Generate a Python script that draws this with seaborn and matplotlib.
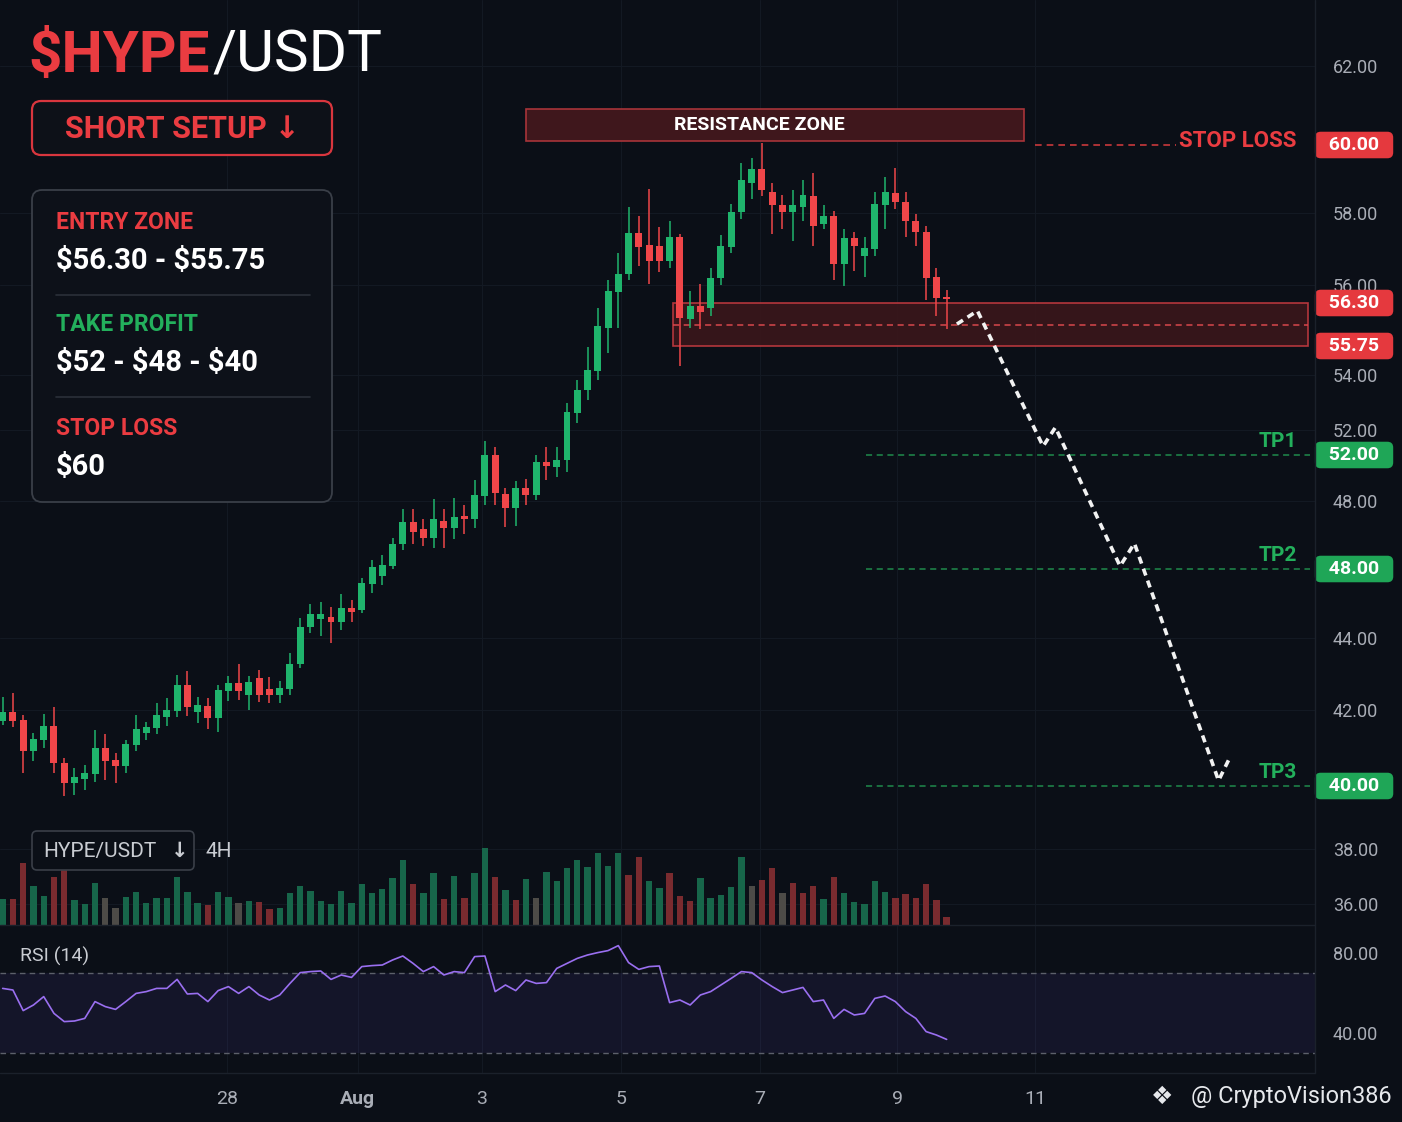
import numpy as np
import matplotlib
matplotlib.use("Agg")
import matplotlib.pyplot as plt
import seaborn as sns
from matplotlib.patches import FancyBboxPatch, Rectangle

# HYPE/USDT 4H candles
opens = [42.40, 42.73, 42.43, 41.29, 41.70, 42.21, 40.85, 40.11, 40.26, 40.44,
         41.40, 40.96, 40.74, 41.51, 41.96, 42.14, 42.54, 42.77, 43.72, 42.73,
         42.95, 42.51, 43.50, 43.80, 43.36, 43.98, 43.58, 43.36, 43.58, 44.50,
         45.86, 46.16, 46.23, 46.05, 46.56, 46.49, 47.45, 47.74, 48.10, 48.89,
         49.65, 49.41, 49.10, 49.68, 49.44, 49.85, 49.75, 50.57, 52.01, 50.64,
         50.13, 50.85, 50.61, 51.77, 51.57, 51.81, 53.45, 54.24, 54.89, 55.98,
         56.55, 56.99, 57.94, 57.66, 57.64, 57.29, 57.85, 56.10, 56.26, 56.23,
         56.88, 57.62, 58.43, 59.12, 59.44, 58.91, 58.59, 58.43, 58.54, 58.80,
         58.15, 58.33, 57.22, 57.83, 57.41, 57.57, 58.59, 58.87, 58.66, 58.22,
         57.96, 56.90, 56.44]
highs = [43.28, 43.43, 42.62, 41.96, 42.66, 42.91, 41.03, 40.67, 40.78, 42.07,
         41.92, 41.22, 41.70, 42.62, 42.36, 43.06, 43.25, 44.09, 44.24, 43.28,
         43.25, 43.72, 44.06, 44.50, 44.06, 44.28, 44.02, 43.87, 44.90, 46.19,
         46.71, 46.78, 46.60, 47.08, 46.86, 47.67, 48.31, 48.48, 49.10, 50.09,
         50.09, 49.75, 50.47, 50.09, 50.50, 50.23, 51.12, 52.49, 52.29, 50.85,
         51.09, 51.15, 52.01, 52.29, 52.29, 53.80, 54.58, 55.72, 56.23, 56.83,
         57.46, 58.54, 58.33, 58.98, 58.08, 58.22, 57.92, 56.58, 56.74, 57.11,
         57.90, 58.61, 59.58, 59.70, 60.05, 59.12, 58.84, 58.94, 59.19, 59.35,
         58.59, 58.45, 58.03, 57.96, 57.85, 58.89, 59.24, 59.47, 58.91, 58.38,
         58.10, 57.13, 56.60]
lows = [42.25, 42.18, 40.48, 40.92, 41.40, 40.48, 39.66, 39.69, 39.86, 40.15,
        40.22, 40.11, 40.48, 41.29, 41.70, 41.92, 42.21, 42.54, 42.58, 42.32,
        42.10, 41.99, 43.13, 43.17, 42.80, 43.10, 43.06, 43.06, 43.36, 44.35,
        45.64, 45.53, 45.27, 45.75, 46.05, 46.38, 47.12, 47.41, 48.00, 48.65,
        48.89, 48.79, 48.75, 48.75, 49.06, 49.23, 49.44, 50.26, 50.26, 49.47,
        49.51, 50.26, 50.43, 51.12, 51.22, 51.40, 53.11, 53.90, 54.58, 55.51,
        55.98, 56.83, 57.16, 56.74, 57.02, 57.11, 55.06, 55.98, 55.97, 56.13,
        56.72, 57.48, 58.27, 58.73, 58.80, 57.92, 58.03, 57.76, 58.22, 57.64,
        58.03, 56.83, 56.69, 57.06, 56.92, 57.39, 58.03, 58.50, 57.85, 57.64,
        56.37, 56.13, 55.97]
closes = [42.73, 42.40, 41.29, 41.73, 42.21, 40.85, 40.11, 40.33, 40.48, 41.40,
          40.92, 40.74, 41.55, 42.10, 42.18, 42.62, 42.80, 43.72, 42.91, 42.99,
          42.51, 43.54, 43.80, 43.50, 43.83, 43.36, 43.36, 43.61, 44.50, 45.86,
          46.34, 46.34, 46.05, 46.56, 46.42, 47.48, 48.07, 48.14, 48.89, 49.65,
          49.30, 49.10, 49.75, 49.44, 49.82, 49.75, 50.61, 52.01, 50.67, 50.13,
          50.85, 50.61, 51.77, 51.60, 51.84, 53.49, 54.24, 54.93, 56.00, 56.58,
          56.99, 57.94, 57.62, 57.29, 57.29, 57.85, 56.11, 56.26, 56.18, 56.88,
          57.64, 58.43, 59.19, 59.44, 58.94, 58.59, 58.43, 58.59, 58.82, 58.10,
          58.33, 57.22, 57.83, 57.64, 57.59, 58.61, 58.89, 58.66, 58.22, 57.96,
          56.88, 56.42, 56.39]
volume = [26, 26, 61, 39, 29, 47, 56, 25, 21, 42,
          27, 17, 28, 33, 22, 27, 27, 47, 33, 22,
          20, 33, 28, 22, 24, 23, 16, 17, 32, 39,
          34, 24, 21, 34, 22, 41, 32, 36, 46, 64,
          41, 32, 51, 26, 48, 27, 51, 76, 47, 35,
          25, 45, 27, 52, 43, 56, 64, 57, 71, 58,
          71, 49, 67, 43, 37, 51, 29, 24, 46, 27,
          30, 38, 67, 39, 44, 56, 32, 42, 32, 39,
          26, 47, 32, 23, 21, 43, 33, 27, 31, 27,
          41, 25, 8]
volume_side = list("grrggrrggg" "nngggggggg" "rggngrrggg" "gggggggggg" "rggrgrggrg"
                   "rgnggggggg" "grrggrrrgg" "gggnrrnrrr" "grgggggrrr" "rrr")
rsi = [62.3, 61.5, 51.2, 54.0, 58.2, 49.8, 45.7, 46.0, 47.3, 55.7,
       53.2, 51.8, 55.7, 59.8, 60.7, 62.3, 62.3, 66.8, 59.5, 59.8,
       55.7, 61.2, 63.2, 59.8, 63.2, 59.0, 56.5, 59.0, 64.8, 70.2,
       70.7, 71.0, 66.8, 69.0, 67.8, 73.2, 73.7, 74.0, 76.5, 78.5,
       74.8, 70.7, 73.2, 69.0, 70.7, 70.2, 78.2, 78.5, 60.7, 64.0,
       61.2, 66.5, 64.8, 65.2, 72.3, 74.8, 77.3, 79.0, 80.2, 81.2,
       83.7, 75.2, 71.8, 73.2, 73.5, 55.2, 56.5, 54.0, 59.0, 60.7,
       64.0, 67.3, 70.7, 70.2, 66.5, 63.2, 60.2, 61.5, 62.8, 55.7,
       56.5, 47.3, 51.8, 49.0, 49.8, 57.3, 58.5, 55.7, 50.7, 47.3,
       40.7, 39.0, 36.8]

# trade setup
entry_zone = (55.75, 56.30)
stop_loss = 60.00
take_profits = [52.00, 48.00, 40.00]
tp_names = ["TP1", "TP2", "TP3"]
resistance_zone = (60.10, 60.90)
resistance_bars = (51.0, 99.5)
entry_bars = (65.3, 127.2)
proj_bar = [93.0, 95.0, 101.4, 102.6, 108.9, 110.3, 118.5, 119.6]
proj_price = [56.03, 56.20, 52.30, 52.95, 48.10, 48.90, 40.20, 41.05]

price_ticks = [62, 58, 56, 54, 52, 48, 44, 42, 38, 36]
rsi_ticks = [80, 40]
date_labels = ["28", "Aug", "3", "5", "7", "9", "11"]
date_tick_pos = [21.9, 34.6, 46.7, 60.3, 73.8, 87.2, 100.6]

# the picture's price axis is not linear: piecewise scales (price -> depth from top)
level_scale = ([34, 36, 40, 48, 52, 55.75, 56.30, 60, 62, 64],
               [963, 904, 786, 569, 455, 346, 303, 145, 66, -13])
label_scale = ([34, 36, 38, 42, 44, 48, 52, 54, 56, 58, 62, 64],
               [959, 904, 849, 710, 638, 501, 430, 375, 285, 213, 66, -13])

BG = "#0b0f17"
RED = "#ef4649"
GREEN = "#1fb46c"
TXT_RED = "#ea3c41"
TXT_GREEN = "#23b05c"
TICK = "#a9adb6"
LINE = "#1b212b"
VOL_COL = {"g": "#17664a", "r": "#7a2b2f", "n": "#4d4b47"}

W, H = 1402, 1122
sns.set_theme(style="dark", rc={"axes.facecolor": BG, "figure.facecolor": BG,
                                "savefig.facecolor": BG, "axes.edgecolor": BG,
                                "text.color": "white"})
plt.rcParams["font.family"] = ["Roboto", "DejaVu Sans"]


def frame(left, top, right, bottom):
    return [left / W, 1 - bottom / H, (right - left) / W, (bottom - top) / H]


def func_scale(prices, depth):
    p = np.asarray(prices, float)
    d = -np.asarray(depth, float)
    return (lambda v: np.interp(v, p, d)), (lambda v: np.interp(v, d, p))


def usd(v, fmt):
    return "\\$" + format(v, fmt)


fig = plt.figure(figsize=(W / 100, H / 100), dpi=100)
ax = fig.add_axes(frame(0, 0, 1315, 925))
ax_vol = fig.add_axes(frame(0, 840, 1315, 925))
ax_rsi = fig.add_axes(frame(0, 925, 1315, 1073))
xlim = (-0.26, 127.9)

fwd, inv = func_scale(*level_scale)
ax.set_yscale("function", functions=(fwd, inv))
ax.set_ylim(inv(-925), inv(0))
ax.set_xlim(*xlim)
ax.patch.set_visible(False)

ax2 = ax.twinx()
fwd2, inv2 = func_scale(*label_scale)
ax2.set_yscale("function", functions=(fwd2, inv2))
ax2.set_ylim(inv2(-925), inv2(0))
ax2.set_yticks(price_ticks, [f"{t:.2f}" for t in price_ticks])
ax2.tick_params(axis="y", colors=TICK, labelsize=13, length=0, pad=13)
ax2.grid(axis="y", color="#131923", lw=0.8)
ax2.set_zorder(ax.get_zorder() - 1)
ax.set_xticks(date_tick_pos)
ax.set_yticks([])
ax.tick_params(bottom=False, labelbottom=False, left=False)
ax.grid(axis="x", color="#131923", lw=0.8)
for a in (ax, ax2, ax_vol, ax_rsi):
    for s in a.spines.values():
        s.set_visible(False)

# candles
x = np.arange(len(opens))
o, h, l, c = map(np.asarray, (opens, highs, lows, closes))
col = np.where(c >= o, GREEN, RED)
ax.vlines(x, l, h, colors=col, lw=1.1, zorder=4)
ax.bar(x, np.maximum(np.abs(c - o), 0.04), bottom=np.minimum(o, c), width=0.68,
       color=col, linewidth=0, zorder=5)

# resistance zone
ax.add_patch(Rectangle((resistance_bars[0], resistance_zone[0]),
                       resistance_bars[1] - resistance_bars[0],
                       resistance_zone[1] - resistance_zone[0],
                       fc="#3f171c", ec="#a83439", lw=1.2, zorder=3))
ax.text(np.mean(resistance_bars) - 1.5, np.mean(resistance_zone), "RESISTANCE ZONE",
        ha="center", va="center", color="white", fontsize=14, fontweight="bold", zorder=6)

# entry zone
ax.add_patch(Rectangle((entry_bars[0], entry_zone[0]), entry_bars[1] - entry_bars[0],
                       entry_zone[1] - entry_zone[0], fc="#3a161b", ec="#c43a40",
                       lw=1.2, alpha=0.9, zorder=2))
ax.hlines(np.mean(entry_zone), entry_bars[0], entry_bars[1], colors="#d8474c",
          linestyles=(0, (4, 3)), lw=1.1, zorder=3)

# stop loss
ax.axhline(stop_loss, 0.787, 0.894, color="#c8383c", ls=(0, (4, 3)), lw=1.2)
ax.annotate("STOP LOSS", xy=(0.9856, stop_loss), xycoords=ax.get_yaxis_transform(),
            xytext=(0, 3), textcoords="offset points", ha="right", va="center",
            color=TXT_RED, fontsize=16, fontweight="bold")

# take profits
for name, tp in zip(tp_names, take_profits):
    ax.axhline(tp, 0.6586, 0.996, color="#1f8a4c", ls=(0, (4, 3)), lw=1.1)
    ax.annotate(name, xy=(0.9863, tp), xycoords=ax.get_yaxis_transform(),
                xytext=(0, 10), textcoords="offset points", ha="right", va="center",
                color=TXT_GREEN, fontsize=15, fontweight="bold")

# projected path
ax.plot(proj_bar, proj_price, color="#f2f2f2", lw=2.6, ls=(0, (2.0, 1.5)),
        solid_capstyle="butt", zorder=7)


def badge(level, color):
    ax.text(1.0297, level, f"  {level:.2f}  ", transform=ax.get_yaxis_transform(),
            ha="center", va="center", fontsize=14, fontweight="bold", color="white",
            clip_on=False, zorder=30,
            bbox=dict(boxstyle="round,pad=0.22,rounding_size=0.3", fc=color, ec="none"))


badge(stop_loss, "#e5393e")
badge(entry_zone[1], "#e5393e")
badge(entry_zone[0], "#e5393e")
for tp in take_profits:
    badge(tp, "#1fa657")

# volume
ax_vol.bar(x, volume, width=0.62, color=[VOL_COL[s] for s in volume_side], linewidth=0)
ax_vol.set_xlim(*xlim)
ax_vol.set_ylim(0, 84)
ax_vol.axis("off")

# RSI
ax_rsi.patch.set_visible(False)
ax_rsi.axhspan(30, 70, color="#6b4fd0", alpha=0.10, lw=0)
for lvl in (70, 30):
    ax_rsi.axhline(lvl, color="#5c606a", ls=(0, (4, 3)), lw=1.0)
sns.lineplot(x=x, y=rsi, ax=ax_rsi, color="#9a6ff0", lw=1.2)
ax_rsi.set_xlim(*xlim)
ax_rsi.set_ylim(20, 94)
ax_rsi.yaxis.tick_right()
ax_rsi.set_yticks(rsi_ticks, [f"{t:.2f}" for t in rsi_ticks])
ax_rsi.set_xticks(date_tick_pos, date_labels)
ax_rsi.tick_params(axis="y", colors=TICK, labelsize=13, length=0, pad=13)
ax_rsi.tick_params(axis="x", colors=TICK, labelsize=14, length=0, pad=12)
ax_rsi.grid(axis="x", color="#131923", lw=0.8)
ax_rsi.set_xlabel("")
ax_rsi.set_ylabel("")
for lab in ax_rsi.get_xticklabels():
    if lab.get_text() == "Aug":
        lab.set_fontweight("bold")

# overlay: panels and captions in figure pixels
ov = fig.add_axes([0, 0, 1, 1], zorder=20)
ov.set_xlim(0, W)
ov.set_ylim(H, 0)
ov.axis("off")
ov.plot([0, 1315], [925, 925], color=LINE, lw=1)
ov.plot([0, 1315], [1073, 1073], color=LINE, lw=1)
ov.plot([1315, 1315], [0, 1073], color=LINE, lw=1)

t1 = ov.text(28, 56, "\\$HYPE", color=TXT_RED, fontsize=42, fontweight="bold",
             va="center", ha="left")
ov.annotate("/USDT", xy=(1, 0.5), xycoords=t1, xytext=(2, 0), textcoords="offset points",
            color="white", fontsize=42, va="center", ha="left")

ov.add_patch(FancyBboxPatch((32, 101), 300, 54, boxstyle="round,pad=0,rounding_size=9",
                            fc="#0d1118", ec="#d9363e", lw=1.6))
ov.text(182, 129, "SHORT SETUP \u2193", color=TXT_RED, fontsize=22, fontweight="bold",
        ha="center", va="center")

ov.add_patch(FancyBboxPatch((32, 190), 300, 312, boxstyle="round,pad=0,rounding_size=10",
                            fc="#0d1119", ec="#3a3f48", lw=1.3))
rows = [("ENTRY ZONE", TXT_RED, usd(entry_zone[1], ".2f") + " - " + usd(entry_zone[0], ".2f"), 222),
        ("TAKE PROFIT", TXT_GREEN, " - ".join(usd(v, ".0f") for v in take_profits), 324),
        ("STOP LOSS", TXT_RED, usd(stop_loss, ".0f"), 428)]
for head, hcol, val, y in rows:
    ov.text(56, y, head, color=hcol, fontsize=16.5, fontweight="bold",
            va="center", ha="left")
    ov.text(56, y + 39, val, color="white", fontsize=21, fontweight="bold",
            va="center", ha="left")
for y in (295, 397):
    ov.plot([56, 310], [y, y], color="#2b3039", lw=1.2)

ov.add_patch(FancyBboxPatch((32, 831), 162, 39, boxstyle="round,pad=0,rounding_size=5",
                            fc=BG, ec="#3a3f48", lw=1.2))
ov.text(43, 851, "HYPE/USDT", color="#c9ccd2", fontsize=15, va="center", ha="left")
ov.text(180, 851, "\u2193", color="#c9ccd2", fontsize=15, fontweight="bold",
        va="center", ha="center")
ov.text(206, 851, "4H", color="#c9ccd2", fontsize=15, va="center", ha="left")
ov.text(20, 956, "RSI (14)", color="#c9ccd2", fontsize=14, va="center", ha="left")

ov.text(1392, 1097, "@ CryptoVision386", color="#e6e8ec", fontsize=17,
        va="center", ha="right")
ov.text(1162, 1097, "\u2756", color="#e6e8ec", fontsize=18, family=["DejaVu Sans"],
        va="center", ha="center")

fig.savefig("out.png", dpi=100, facecolor=BG)
